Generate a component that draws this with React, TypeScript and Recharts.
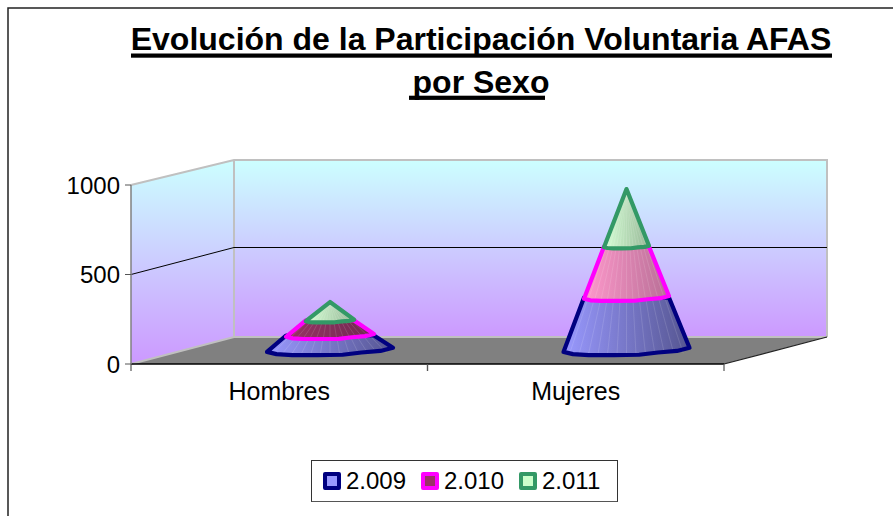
import { Bar, ComposedChart, Legend, XAxis, YAxis } from "recharts";

const CATEGORIES = ["Hombres", "Mujeres"];
const SERIES_NAMES = ["2.009", "2.010", "2.011"];
const VALUES_2009 = [81, 293];
const VALUES_2010 = [84, 285];
const VALUES_2011 = [103, 321];
const Y_TICKS = [0, 500, 1000];
const TITLE_LINES = ["Evolución de la Participación Voluntaria AFAS", "por Sexo"];

const SERIES_KEYS = ["v2009", "v2010", "v2011"];
const chartData = CATEGORIES.map((name, i) => ({
  name,
  v2009: VALUES_2009[i],
  v2010: VALUES_2010[i],
  v2011: VALUES_2011[i],
}));

const FONT = '"Liberation Sans", Arial, sans-serif';
const OUTLINES = ["#000080", "#FF00FF", "#339966"];
const SWATCHES = ["#9999FF", "#993366", "#CCFFCC"];

// the cones sit half way into the floor, so they are shifted from the front plane
const CONE_DX = 51;
const CONE_DY = -14;
// lumpy lower edge of a tier, as fractions of its radius, right to left
const EDGE = [
  [0.8, 0.015],
  [0.5, 0.04],
  [0.2, 0.075],
  [-0.2, 0.08],
  [-0.6, 0.08],
  [-0.85, 0.065],
  [-1, 0.03],
];

function tierGradient(tier: number, index: number) {
  if (tier === 0) return "url(#cone-blue)";
  if (tier === 2) return "url(#cone-green)";
  return index === 0 ? "url(#cone-maroon)" : "url(#cone-pink)";
}

function ConeTier(props: any) {
  const { x, y, width, height, payload, index, tier } = props;
  const values = SERIES_KEYS.map((k) => payload[k]);
  const below = values.slice(0, tier).reduce((a: number, b: number) => a + b, 0);
  const total = values.reduce((a: number, b: number) => a + b, 0);
  const perUnit = height / values[tier];

  const cx = x + width / 2 + CONE_DX;
  const yBottom = y + height + CONE_DY;
  const yTop = y + CONE_DY;
  const yBase = yBottom + below * perUnit;
  const yApex = yBase - total * perUnit;
  const radiusAt = (yy: number) => ((width / 2) * (yy - yApex)) / (yBase - yApex);
  const rb = radiusAt(yBottom);
  const rt = radiusAt(yTop);

  const right = `${cx + rb} ${yBottom - 0.035 * rb}`;
  const bottom = EDGE.map(([fx, fy]) => `L ${cx + fx * rb} ${yBottom + fy * rb}`).join(" ");
  const top = tier === 2 ? `L ${cx} ${yTop}` : `L ${cx - rt} ${yTop} L ${cx + rt} ${yTop}`;
  const outline = `M ${right} ${bottom} ${top} Z`;

  const facets = [];
  for (let f = -0.9; f < 0.95; f += 0.15) {
    facets.push(
      <line
        key={f}
        x1={cx + f * rt}
        y1={yTop}
        x2={cx + f * rb}
        y2={yBottom + 0.05 * rb}
        stroke="#fff"
        strokeOpacity={0.16}
        strokeWidth={0.8}
      />
    );
  }

  return (
    <g>
      <path d={outline} fill={tierGradient(tier, index)} />
      {facets}
      <path
        d={outline}
        fill="none"
        stroke={OUTLINES[tier]}
        strokeWidth={4.2}
        strokeLinejoin="round"
      />
    </g>
  );
}

function CategoryTick(props: any) {
  const { x, payload } = props;
  const half = 593 / 4;
  return (
    <g>
      <line x1={x - half} y1={364} x2={x - half} y2={371} stroke="#555" strokeWidth={1.2} />
      <line x1={x + half} y1={364} x2={x + half} y2={371} stroke="#555" strokeWidth={1.2} />
      <text x={x} y={400} textAnchor="middle" fontSize={25} fontFamily={FONT} fill="#000">
        {payload.value}
      </text>
    </g>
  );
}

function LegendBox({ payload }: any) {
  return (
    <div
      style={{
        boxSizing: "border-box",
        width: 307,
        height: 42,
        border: "1px solid #333",
        borderBottom: "1.5px solid #555",
        background: "#fff",
        display: "flex",
        alignItems: "center",
        paddingLeft: 11,
        fontFamily: FONT,
        fontSize: 24,
        color: "#000",
      }}
    >
      {(payload || []).map((entry: any, i: number) => (
        <div key={entry.value} style={{ display: "flex", alignItems: "center", width: 103 }}>
          <span
            style={{
              boxSizing: "border-box",
              width: 18,
              height: 18,
              marginRight: 5,
              border: `4px solid ${OUTLINES[i]}`,
              borderRadius: 2,
              background: SWATCHES[i],
            }}
          />
          {entry.value}
        </div>
      ))}
    </div>
  );
}

export default function App() {
  return (
    <div style={{ position: "fixed", left: 0, top: 0, width: 893, height: 516, background: "#fff" }}>
      <ComposedChart
        width={893}
        height={516}
        data={chartData}
        margin={{ top: 185, right: 169, bottom: 70, left: 71 }}
        barCategoryGap={0}
      >
        <defs>
          <linearGradient id="wall" x1="0" y1="0" x2="0" y2="1">
            <stop offset="0%" stopColor="#CCFFFF" />
            <stop offset="100%" stopColor="#CC99FF" />
          </linearGradient>
          <linearGradient id="cone-blue" x1="0" y1="0" x2="1" y2="0">
            <stop offset="0%" stopColor="#9999FF" />
            <stop offset="100%" stopColor="#555590" />
          </linearGradient>
          <linearGradient id="cone-maroon" x1="0" y1="0" x2="1" y2="0">
            <stop offset="0%" stopColor="#993366" />
            <stop offset="100%" stopColor="#702A50" />
          </linearGradient>
          <linearGradient id="cone-pink" x1="0" y1="0" x2="1" y2="0">
            <stop offset="0%" stopColor="#FF99CC" />
            <stop offset="100%" stopColor="#B86F96" />
          </linearGradient>
          <linearGradient id="cone-green" x1="0" y1="0" x2="1" y2="0">
            <stop offset="0%" stopColor="#D6FFD6" />
            <stop offset="100%" stopColor="#97B897" />
          </linearGradient>
        </defs>

        <path d="M 8 516 L 8 8 L 893 8" fill="none" stroke="#222" strokeWidth={1.5} />
        {TITLE_LINES.map((line, i) => (
          <text
            key={line}
            x={481}
            y={50 + i * 42.5}
            textAnchor="middle"
            fontFamily={FONT}
            fontSize={32}
            fontWeight="bold"
            fill="#000"
          >
            {line}
          </text>
        ))}
        {/* the thick underlines of the title */}
        <rect x={131} y={53.5} width={701} height={4.2} fill="#000" />
        <rect x={409} y={95.7} width={136} height={4.2} fill="#000" />

        <polygon points="131,185 234,160 234,337 131,364" fill="url(#wall)" />
        <rect x={234} y={160} width={593} height={177} fill="url(#wall)" />
        <polygon points="131,364 234,337 827,337 724,364" fill="#808080" />
        <path
          d="M 131 185 L 234 160 L 827 160 L 827 337 M 131 364 L 234 337 L 827 337 M 234 160 L 234 337"
          fill="none"
          stroke="#C0C0C0"
          strokeWidth={2}
        />
        <path d="M 724 364 L 827 337" fill="none" stroke="#222" strokeWidth={1.2} />
        <path d="M 131 274.5 L 234 247.5 L 827 247.5" fill="none" stroke="#000" strokeWidth={1} />

        <XAxis
          dataKey="name"
          height={40}
          axisLine={{ stroke: "#000", strokeWidth: 1.5 }}
          tickLine={false}
          tick={<CategoryTick />}
          interval={0}
        />
        <YAxis
          width={60}
          domain={[0, 1000]}
          ticks={Y_TICKS}
          axisLine={{ stroke: "#808080", strokeWidth: 1.5 }}
          tickLine={{ stroke: "#555" }}
          tickSize={6}
          tickMargin={5}
          tick={{ fontSize: 24, fontFamily: FONT, fill: "#000" }}
        />
        {SERIES_KEYS.map((key, tier) => (
          <Bar
            key={key}
            dataKey={key}
            name={SERIES_NAMES[tier]}
            stackId="cone"
            barSize={126}
            fill={SWATCHES[tier]}
            isAnimationActive={false}
            shape={(p: any) => <ConeTier {...p} tier={tier} />}
          />
        ))}
        <Legend
          layout="vertical"
          align="center"
          verticalAlign="bottom"
          content={<LegendBox />}
          wrapperStyle={{ position: "absolute", left: 311, top: 460, bottom: "auto", width: 307 }}
        />
      </ComposedChart>
    </div>
  );
}
